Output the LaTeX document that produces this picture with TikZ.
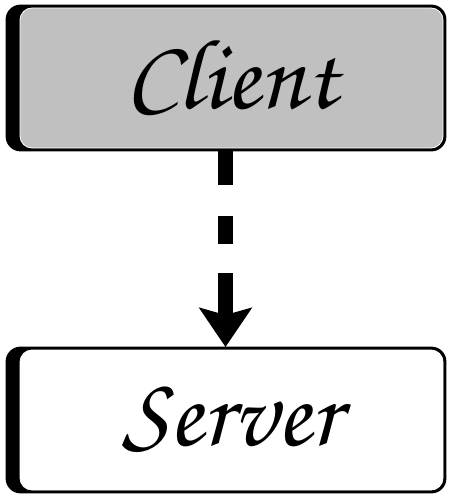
\documentclass[tikz,border=0pt]{standalone}
\usepackage{fontspec}
\newfontfamily\hand{TeX Gyre Chorus}
\usetikzlibrary{arrows.meta,backgrounds}
\definecolor{boxgray}{HTML}{C0C0C0}
\tikzset{
  diagbox/.style={rectangle, rounded corners=12pt, minimum width=423pt,
    minimum height=140pt, inner sep=0pt, draw=white, line width=0.8pt,
    font=\hand\fontsize{100}{104}\selectfont},
  shadowedge/.style={fill=black, rounded corners=15pt},
  flowarrow/.style={line width=15pt, dash pattern=on 34pt off 31pt on 28pt off 29pt on 200pt,
    -{Stealth[length=39pt,width=52pt,inset=7pt]}}
}
\begin{document}
\begin{tikzpicture}[x=1pt,y=-1pt]
\useasboundingbox (0,0) rectangle (452,500);
\node[diagbox, fill=boxgray] (client) at (231.5,78) {Client};
\node[diagbox, fill=white] (server) at (231.5,420) {Server};
\begin{scope}[on background layer]
\fill[shadowedge] ([xshift=-14pt,yshift=3pt]client.north west) rectangle ([xshift=3pt,yshift=-3pt]client.south east);
\fill[shadowedge] ([xshift=-14pt,yshift=3pt]server.north west) rectangle ([xshift=3pt,yshift=-3pt]server.south east);
\end{scope}
\coordinate (top) at (225.5,151);
\coordinate (tip) at (225.5,347);
\draw[flowarrow] (top) -- (tip);
\end{tikzpicture}
\end{document}
